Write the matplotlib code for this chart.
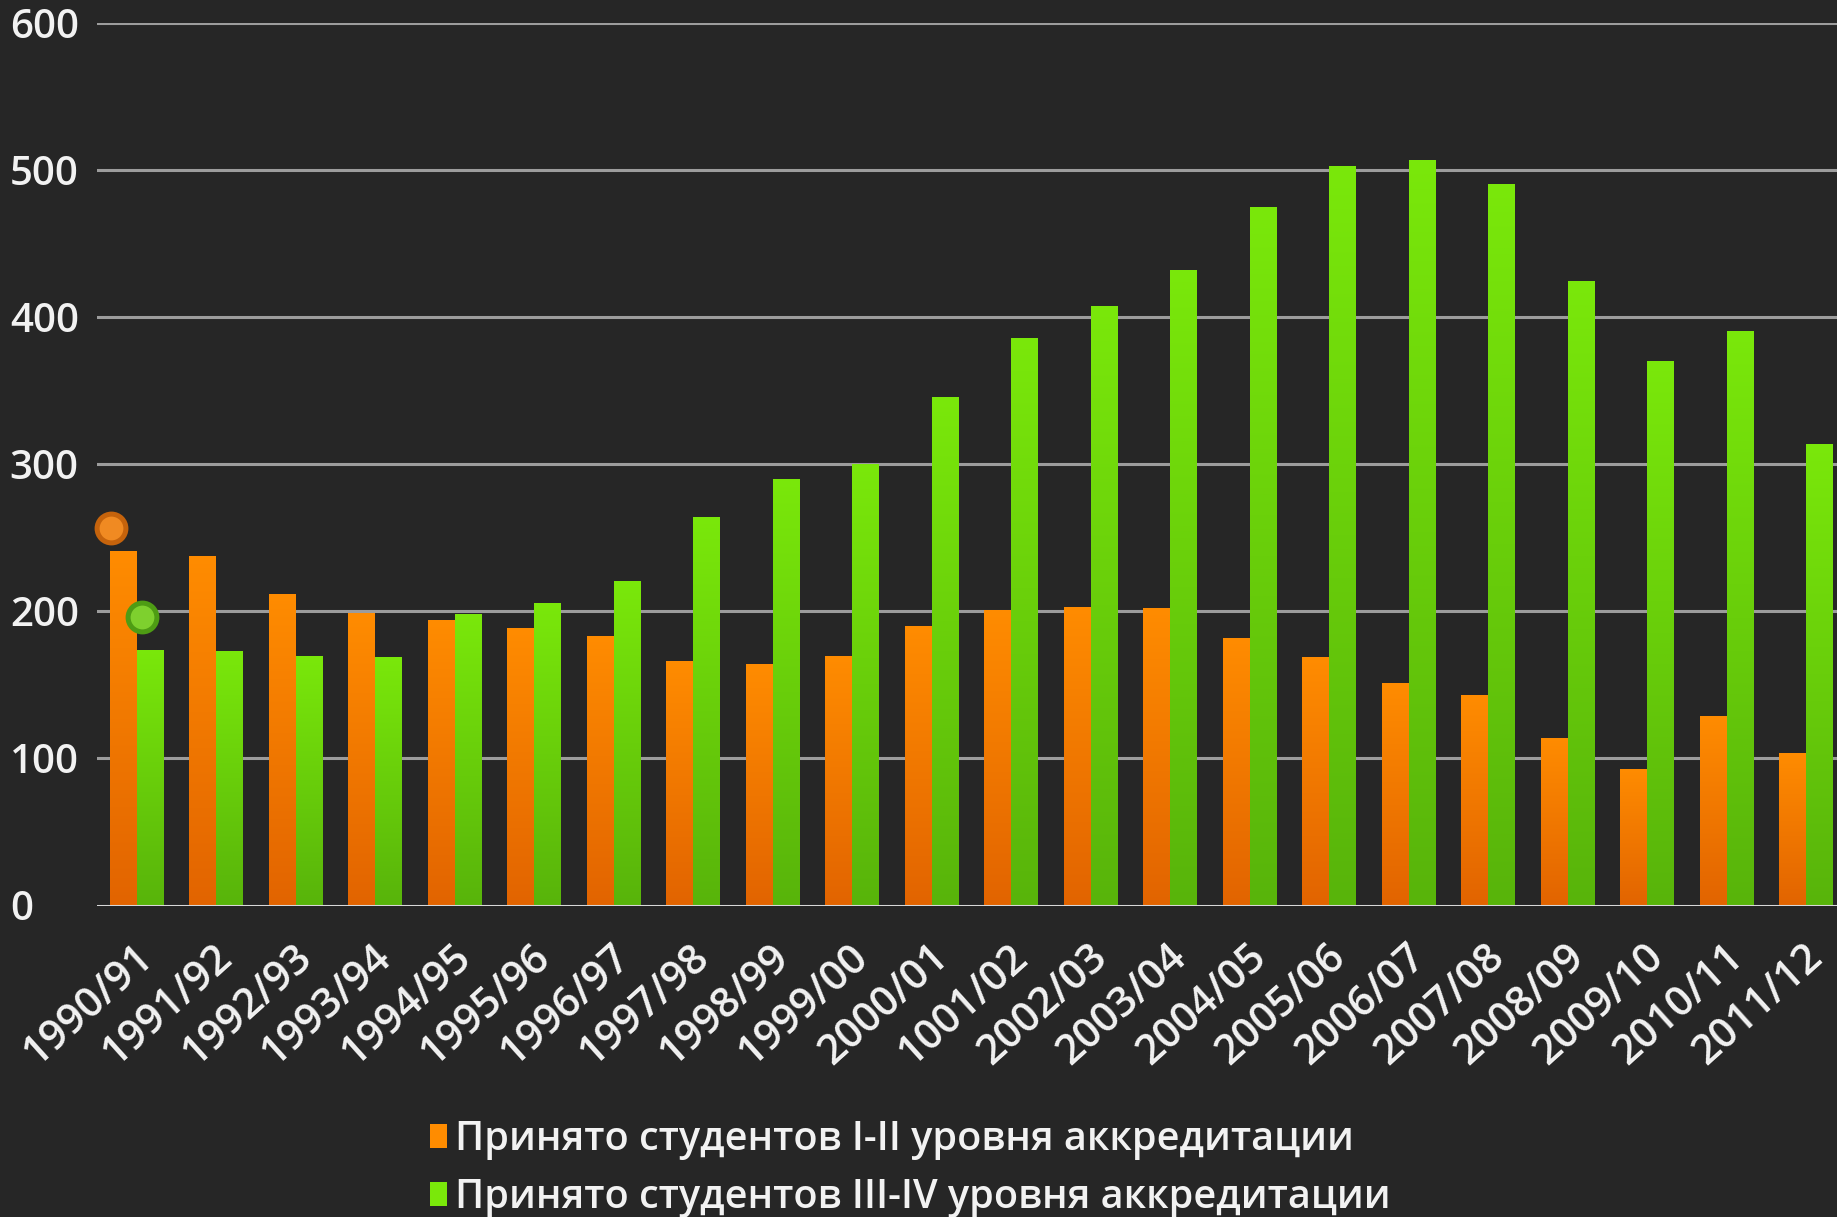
import numpy as np
import matplotlib
matplotlib.use('Agg')
import matplotlib.pyplot as plt
from matplotlib.transforms import ScaledTranslation

# Data
seasons = ['1990/91', '1991/92', '1992/93', '1993/94', '1994/95', '1995/96',
           '1996/97', '1997/98', '1998/99', '1999/00', '2000/01', '1001/02',
           '2002/03', '2003/04', '2004/05', '2005/06', '2006/07', '2007/08',
           '2008/09', '2009/10', '2010/11', '2011/12']
level_1_2 = [241, 238, 212, 199, 194, 189, 183, 166, 164, 170, 190, 201,
             203, 202, 182, 169, 151, 143, 114, 93, 129, 104]
level_3_4 = [174, 173, 170, 169, 198, 206, 221, 264, 290, 300, 346, 386,
             408, 432, 475, 503, 507, 491, 425, 370, 391, 314]
labels = ['Принято студентов I-II уровня аккредитации',
          'Принято студентов III-IV уровня аккредитации']
yticks = [0, 100, 200, 300, 400, 500, 600]

# the two stray round markers near the first group
dot_x = [-0.32, 0.065]
dot_y = [257, 196]

bg = '#262626'
orange_top, orange_bot = '#FF8C00', '#E26400'
green_top, green_bot = '#7AE80A', '#58B40A'
txt = '#F2F2F2'

plt.rcParams['font.family'] = ['Open Sans', 'DejaVu Sans']
plt.rcParams['font.weight'] = 'semibold'

W, H = 1837, 1217
fig = plt.figure(figsize=(W / 100, H / 100), dpi=100, facecolor=bg)
left = 96.75 / W
bottom = (H - 905.5) / H
top = (H - 23.3) / H
ax = fig.add_axes([left, bottom, 1.0 - left, top - bottom], facecolor=bg)

x = np.arange(len(seasons))
bw = 0.335
bars1 = ax.bar(x - bw / 2, level_1_2, bw, color=orange_top, label=labels[0], zorder=3)
bars2 = ax.bar(x + bw / 2, level_3_4, bw, color=green_top, label=labels[1], zorder=3)


def gradient_fill(bars, c_top, c_bot):
    cmap = matplotlib.colors.LinearSegmentedColormap.from_list('g', [c_bot, c_top])
    grad = np.linspace(0, 1, 256).reshape(-1, 1)
    for b in bars:
        x0, y0 = b.get_x(), b.get_y()
        w, h = b.get_width(), b.get_height()
        im = ax.imshow(grad, cmap=cmap, extent=[x0, x0 + w, y0, y0 + h],
                       origin='lower', aspect='auto', zorder=4)
        im.set_clip_path(b)


gradient_fill(bars1, orange_top, orange_bot)
gradient_fill(bars2, green_top, green_bot)

ax.scatter(dot_x[0], dot_y[0], s=430, color='#F08A22', edgecolors='#C5630C',
           linewidths=3.6, zorder=6, clip_on=False)
ax.scatter(dot_x[1], dot_y[1], s=430, color='#7ED02E', edgecolors='#4E9C14',
           linewidths=3.6, zorder=6, clip_on=False)

ax.set_xlim(-0.5, -0.5 + (W - 96.75) / 79.5)
ax.set_ylim(0, 600)

# grid
for v in yticks[1:]:
    ax.axhline(v, color='#9C9C9C', lw=2.2, zorder=1)
ax.axhline(0, color='#D8D8D8', lw=2.2, zorder=5)

for s in ax.spines.values():
    s.set_visible(False)

ax.set_yticks(yticks)
ax.set_yticklabels([str(v) for v in yticks])
ax.tick_params(axis='y', length=0, pad=62.6, labelsize=29, labelcolor=txt)
for t in ax.get_yticklabels():
    t.set_horizontalalignment('left')

ax.set_xticks(x)
ax.set_xticklabels(seasons, rotation=42, ha='right', va='center',
                   rotation_mode='anchor')
ax.tick_params(axis='x', length=0, pad=33, labelsize=30, labelcolor=txt)
shift = ScaledTranslation(11 / 100, 0, fig.dpi_scale_trans)
for t in ax.get_xticklabels():
    t.set_transform(t.get_transform() + shift)

leg = ax.legend(handles=[bars1, bars2], labels=labels, loc='upper left',
                bbox_to_anchor=(430 / W, (H - 1120) / H),
                bbox_transform=fig.transFigure, frameon=False, fontsize=28.5,
                handlelength=0.43, handleheight=0.56, handletextpad=0.2,
                labelspacing=0.45, borderpad=0, borderaxespad=0)
for t in leg.get_texts():
    t.set_color(txt)

fig.savefig('out.png', dpi=100, facecolor=bg)
